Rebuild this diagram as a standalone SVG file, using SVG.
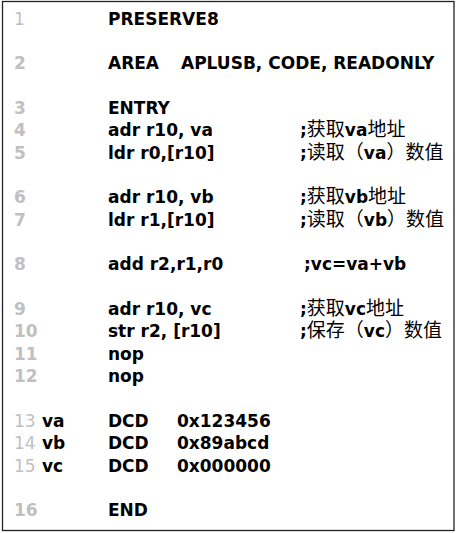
<svg xmlns="http://www.w3.org/2000/svg" width="456" height="533" viewBox="0 0 456 533">
<style>
.c{font-family:"DejaVu Sans","Noto Sans CJK SC",sans-serif;font-weight:bold;font-size:17px;fill:#000}
.n{font-family:"DejaVu Sans",sans-serif;font-weight:bold;font-size:17px;fill:#c0c0c0}
.nr{font-family:"DejaVu Sans",sans-serif;font-size:17px;fill:#c0c0c0}
.z{font-family:"Noto Sans CJK SC",sans-serif;font-weight:normal;font-size:19px}
</style>
<rect x="2.5" y="1.5" width="451.5" height="529" fill="#fff" stroke="#222" stroke-width="1.3"/>
<g id="line1"><text class="nr" x="14" y="24.5" font-size="11">1</text><text class="c" x="108" y="24.5">PRESERVE8</text></g>
<g id="line2"><text class="n" x="14" y="69.2">2</text><text class="c" x="108" y="69.2">AREA</text><text class="c" x="181" y="69.2">APLUSB, CODE, READONLY</text></g>
<g id="line3"><text class="n" x="14" y="113.9">3</text><text class="c" x="108" y="113.9">ENTRY</text></g>
<g id="line4"><text class="n" x="14" y="136.3">4</text><text class="c" x="108" y="136.3">adr r10, va</text><text class="c" x="300" y="136.3">;<tspan class="z">获取</tspan>va<tspan class="z">地址</tspan></text></g>
<g id="line5"><text class="n" x="14" y="158.6">5</text><text class="c" x="108" y="158.6">ldr r0,[r10]</text><text class="c" x="300" y="158.6">;<tspan class="z">读取（</tspan>va<tspan class="z">）数值</tspan></text></g>
<g id="line6"><text class="n" x="14" y="203.3">6</text><text class="c" x="108" y="203.3">adr r10, vb</text><text class="c" x="300" y="203.3">;<tspan class="z">获取</tspan>vb<tspan class="z">地址</tspan></text></g>
<g id="line7"><text class="n" x="14" y="225.7">7</text><text class="c" x="108" y="225.7">ldr r1,[r10]</text><text class="c" x="300" y="225.7">;<tspan class="z">读取（</tspan>vb<tspan class="z">）数值</tspan></text></g>
<g id="line8"><text class="n" x="14" y="270.4">8</text><text class="c" x="108" y="270.4">add r2,r1,r0</text><text class="c" x="304" y="270.4">;vc=va+vb</text></g>
<g id="line9"><text class="n" x="14" y="315.1">9</text><text class="c" x="108" y="315.1">adr r10, vc</text><text class="c" x="300" y="315.1">;<tspan class="z">获取</tspan>vc<tspan class="z">地址</tspan></text></g>
<g id="line10"><text class="n" x="14" y="337.4">10</text><text class="c" x="108" y="337.4">str r2, [r10]</text><text class="c" x="300" y="337.4">;<tspan class="z">保存（</tspan>vc<tspan class="z">）数值</tspan></text></g>
<g id="line11"><text class="n" x="14" y="359.8">11</text><text class="c" x="108" y="359.8">nop</text></g>
<g id="line12"><text class="n" x="14" y="382.1">12</text><text class="c" x="108" y="382.1">nop</text></g>
<g id="line13"><text class="nr" x="14" y="426.8">13</text><text class="c" x="42" y="426.8">va</text><text class="c" x="108" y="426.8">DCD</text><text class="c" x="177" y="426.8">0x123456</text></g>
<g id="line14"><text class="nr" x="14" y="449.2">14</text><text class="c" x="42" y="449.2">vb</text><text class="c" x="108" y="449.2">DCD</text><text class="c" x="177" y="449.2">0x89abcd</text></g>
<g id="line15"><text class="nr" x="14" y="471.5">15</text><text class="c" x="42" y="471.5">vc</text><text class="c" x="108" y="471.5">DCD</text><text class="c" x="177" y="471.5">0x000000</text></g>
<g id="line16"><text class="n" x="14" y="516.2">16</text><text class="c" x="108" y="516.2">END</text></g>
<g id="connectors"/>
</svg>
